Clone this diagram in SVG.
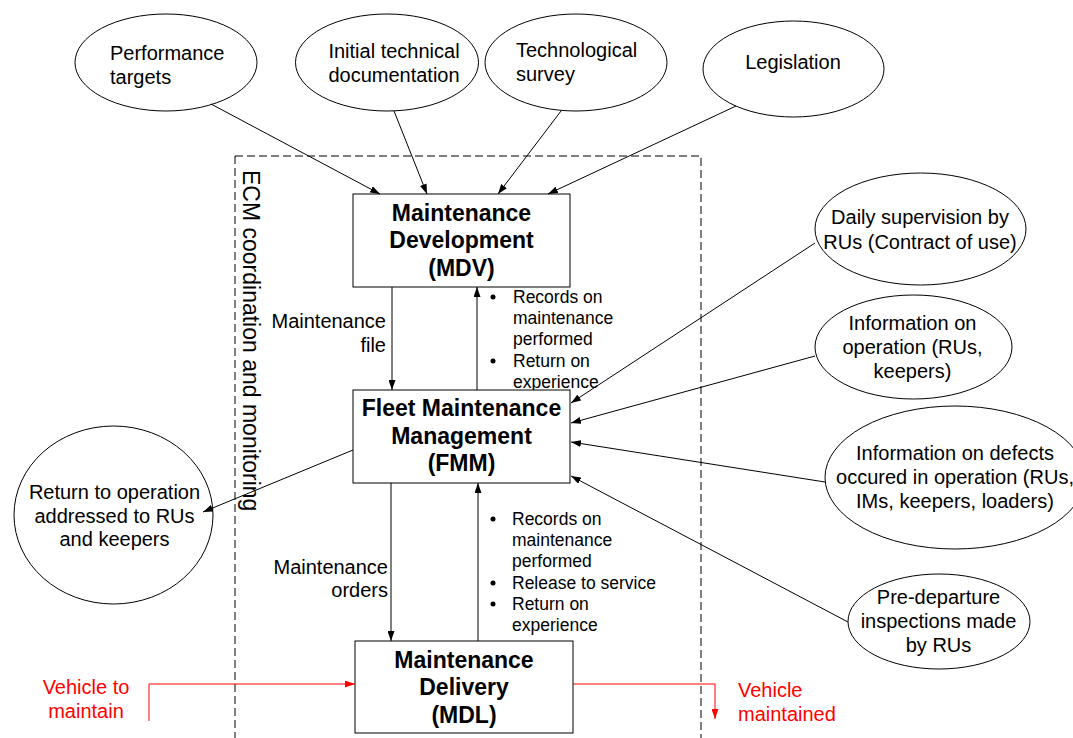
<svg xmlns="http://www.w3.org/2000/svg" width="1073" height="738" viewBox="0 0 1073 738">
<defs>
<style>
text{font-family:"Liberation Sans",Arial,sans-serif;fill:#000}
.t{font-size:20px}
.c{text-anchor:middle}
.e{text-anchor:end}
.b{font-size:23px;font-weight:bold;text-anchor:middle}
.s{font-size:17.5px}
.r{fill:#ff0000}
.n{fill:#fff;stroke:#000;stroke-width:1}
.l{fill:none;stroke:#000;stroke-width:1;marker-end:url(#ah)}
.lr{fill:none;stroke:#ff0000;stroke-width:1;marker-end:url(#ahr)}
</style>
<marker id="ah" viewBox="0 0 10 7" refX="10" refY="3.5" markerWidth="10" markerHeight="7" markerUnits="userSpaceOnUse" orient="auto"><path d="M0,0 L10,3.5 L0,7 z" fill="#000"/></marker>
<marker id="ahr" viewBox="0 0 10 7" refX="10" refY="3.5" markerWidth="10" markerHeight="7" markerUnits="userSpaceOnUse" orient="auto"><path d="M0,0 L10,3.5 L0,7 z" fill="#ff0000"/></marker>
</defs>
<rect width="1073" height="738" fill="#fff"/>
<g id="ecm-frame">
<rect x="235" y="156" width="466" height="600" fill="none" stroke="#000" stroke-width="1" stroke-dasharray="8,4"/>
<text class="t" style="font-size:23px" transform="translate(243,170) rotate(90)">ECM coordination and monitoring</text>
</g>
<g id="label-maintenance-file">
<text class="t e" x="386" y="328">Maintenance</text>
<text class="t e" x="386" y="352">file</text>
</g>
<g id="label-maintenance-orders">
<text class="t e" x="388" y="574">Maintenance</text>
<text class="t e" x="388" y="597">orders</text>
</g>
<g id="label-feedback-mdv">
<circle cx="493" cy="297" r="2.5"/>
<text class="s" x="513" y="303">Records on</text>
<text class="s" x="513" y="324">maintenance</text>
<text class="s" x="513" y="345">performed</text>
<circle cx="493" cy="361" r="2.5"/>
<text class="s" x="513" y="367">Return on</text>
<text class="s" x="513" y="388">experience</text>
</g>
<g id="label-feedback-fmm">
<circle cx="493" cy="519" r="2.5"/>
<text class="s" x="512" y="525">Records on</text>
<text class="s" x="512" y="546">maintenance</text>
<text class="s" x="512" y="567">performed</text>
<circle cx="493" cy="583" r="2.5"/>
<text class="s" x="512" y="589">Release to service</text>
<circle cx="493" cy="604" r="2.5"/>
<text class="s" x="512" y="610">Return on</text>
<text class="s" x="512" y="631">experience</text>
</g>
<g id="performance-targets">
<ellipse class="n" cx="166" cy="62.5" rx="91" ry="48.5"/>
<text class="t" x="110" y="60">Performance</text>
<text class="t" x="110" y="84">targets</text>
</g>
<g id="initial-technical-documentation">
<ellipse class="n" cx="387" cy="62.5" rx="91.5" ry="48.5"/>
<text class="t c" x="394" y="58">Initial technical</text>
<text class="t c" x="394" y="82">documentation</text>
</g>
<g id="technological-survey">
<ellipse class="n" cx="576" cy="62.5" rx="91" ry="48.5"/>
<text class="t" x="516" y="57">Technological</text>
<text class="t" x="516" y="81">survey</text>
</g>
<g id="legislation">
<ellipse class="n" cx="793.5" cy="69" rx="90.5" ry="48"/>
<text class="t c" x="793" y="69">Legislation</text>
</g>
<g id="mdv">
<rect class="n" x="353" y="194" width="217" height="93"/>
<text class="b" x="461.5" y="221">Maintenance</text>
<text class="b" x="461.5" y="248">Development</text>
<text class="b" x="461.5" y="276">(MDV)</text>
</g>
<g id="fmm">
<rect class="n" x="353" y="390" width="217" height="93"/>
<text class="b" x="461.5" y="416">Fleet Maintenance</text>
<text class="b" x="461.5" y="444">Management</text>
<text class="b" x="461.5" y="471">(FMM)</text>
</g>
<g id="mdl">
<rect class="n" x="355" y="641" width="218" height="92"/>
<text class="b" x="464" y="668">Maintenance</text>
<text class="b" x="464" y="695">Delivery</text>
<text class="b" x="464" y="723">(MDL)</text>
</g>
<g id="daily-supervision">
<ellipse class="n" cx="920.5" cy="229" rx="105.5" ry="56"/>
<text class="t c" x="920" y="224">Daily supervision by</text>
<text class="t c" x="920" y="249">RUs (Contract of use)</text>
</g>
<g id="information-operation">
<ellipse class="n" cx="913.5" cy="347" rx="98.5" ry="52"/>
<text class="t c" x="912.5" y="330">Information on</text>
<text class="t c" x="912.5" y="354">operation (RUs,</text>
<text class="t c" x="912.5" y="378">keepers)</text>
</g>
<g id="information-defects">
<ellipse class="n" cx="955" cy="477.5" rx="130" ry="71.5"/>
<text class="t c" x="955" y="460">Information on defects</text>
<text class="t c" x="955" y="484">occured in operation (RUs,</text>
<text class="t c" x="955" y="508">IMs, keepers, loaders)</text>
</g>
<g id="pre-departure">
<ellipse class="n" cx="939" cy="621.5" rx="91" ry="47.5"/>
<text class="t c" x="938.5" y="604">Pre-departure</text>
<text class="t c" x="938.5" y="628">inspections made</text>
<text class="t c" x="938.5" y="652">by RUs</text>
</g>
<g id="return-to-operation">
<ellipse class="n" cx="113.5" cy="515" rx="99.5" ry="89"/>
<text class="t c" x="114.5" y="499">Return to operation</text>
<text class="t c" x="114.5" y="523">addressed to RUs</text>
<text class="t c" x="114.5" y="546">and keepers</text>
</g>
<g id="vehicle-to-maintain">
<text class="t c r" x="86" y="694">Vehicle to</text>
<text class="t c r" x="86" y="718">maintain</text>
</g>
<g id="vehicle-maintained">
<text class="t r" x="738" y="697">Vehicle</text>
<text class="t r" x="738" y="721">maintained</text>
</g>
<g id="connectors">
<line class="l" x1="211" y1="104" x2="380" y2="194"/>
<line class="l" x1="394" y1="111" x2="427" y2="194"/>
<line class="l" x1="561" y1="111" x2="498" y2="194"/>
<line class="l" x1="736" y1="106" x2="548" y2="194"/>
<line class="l" x1="392" y1="287" x2="392" y2="390"/>
<line class="l" x1="477" y1="390" x2="477" y2="287"/>
<line class="l" x1="391" y1="483" x2="391" y2="641"/>
<line class="l" x1="478" y1="641" x2="478" y2="483"/>
<line class="l" x1="353" y1="450" x2="203" y2="512"/>
<line class="l" x1="815" y1="243" x2="571" y2="403"/>
<line class="l" x1="815" y1="356" x2="571" y2="423"/>
<line class="l" x1="825" y1="482" x2="571" y2="442"/>
<line class="l" x1="848" y1="622" x2="571" y2="476"/>
<polyline class="lr" points="149,721 149,684 355,684"/>
<polyline class="lr" points="573,684 715,684 715,719"/>
</g>
</svg>
